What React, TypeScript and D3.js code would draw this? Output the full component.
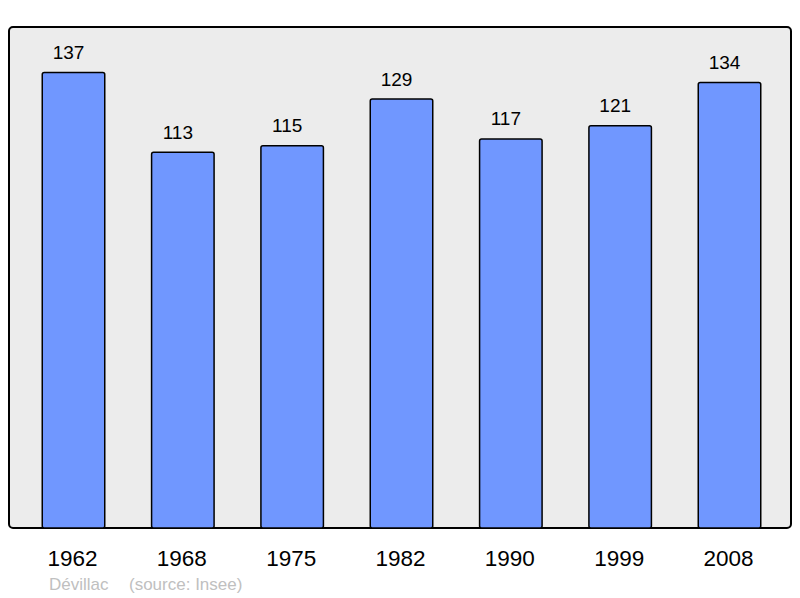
import { useEffect, useRef } from 'react';
import * as d3 from 'd3';

const years = ['1962', '1968', '1975', '1982', '1990', '1999', '2008'];
const population = [137, 113, 115, 129, 117, 121, 134];
const town = 'Dévillac';
const source = '(source: Insee)';

const W = 800;
const H = 598;

const App = () => {
  const ref = useRef<SVGSVGElement>(null);

  useEffect(() => {
    const svg = d3.select(ref.current);
    svg.selectAll('*').remove();

    const panel = { left: 9, top: 27, right: 791, bottom: 528 };
    const barW = 62.5;
    const font = 'Liberation Sans, Arial, sans-serif';

    const x = d3.scalePoint<string>().domain(years).range([73.5, 729.5]);
    const y = d3.scaleLinear()
      .domain([0, d3.max(population) as number])
      .range([panel.bottom, 72.5]);

    svg.append('rect')
      .attr('x', panel.left)
      .attr('y', panel.top)
      .attr('width', panel.right - panel.left)
      .attr('height', panel.bottom - panel.top)
      .attr('rx', 4)
      .attr('fill', '#ececec')
      .attr('stroke', '#000')
      .attr('stroke-width', 2);

    const rows = years.map((yr, i) => ({ yr, v: population[i] }));

    svg.selectAll('rect.bar')
      .data(rows)
      .enter().append('rect')
      .attr('class', 'bar')
      .attr('x', (d) => (x(d.yr) as number) - barW / 2)
      .attr('y', (d) => y(d.v))
      .attr('width', barW)
      .attr('height', (d) => panel.bottom - y(d.v))
      .attr('rx', 2)
      .attr('fill', '#7097ff')
      .attr('stroke', '#000')
      .attr('stroke-width', 1.5);

    // value labels sit a little left of the bar centre in the original
    svg.selectAll('text.val')
      .data(rows)
      .enter().append('text')
      .attr('class', 'val')
      .attr('x', (d) => (x(d.yr) as number) - 5)
      .attr('y', (d) => y(d.v) - 13.5)
      .attr('text-anchor', 'middle')
      .attr('font-family', font)
      .attr('font-size', 19)
      .attr('fill', '#000')
      .text((d) => d.v);

    svg.selectAll('text.year')
      .data(years)
      .enter().append('text')
      .attr('class', 'year')
      .attr('x', (d) => (x(d) as number) - 1)
      .attr('y', 565.5)
      .attr('text-anchor', 'middle')
      .attr('font-family', font)
      .attr('font-size', 22.5)
      .attr('fill', '#000')
      .text((d) => d);

    svg.append('text')
      .attr('x', 49)
      .attr('y', 590)
      .attr('font-family', font)
      .attr('font-size', 17)
      .attr('fill', '#c0c0c0')
      .text(town);

    svg.append('text')
      .attr('x', 129)
      .attr('y', 590)
      .attr('font-family', font)
      .attr('font-size', 17)
      .attr('fill', '#c0c0c0')
      .text(source);
  }, []);

  return (
    <svg
      ref={ref}
      width={W}
      height={H}
      style={{ position: 'absolute', left: 0, top: 0, background: '#fff' }}
    />
  );
};

export default App;
